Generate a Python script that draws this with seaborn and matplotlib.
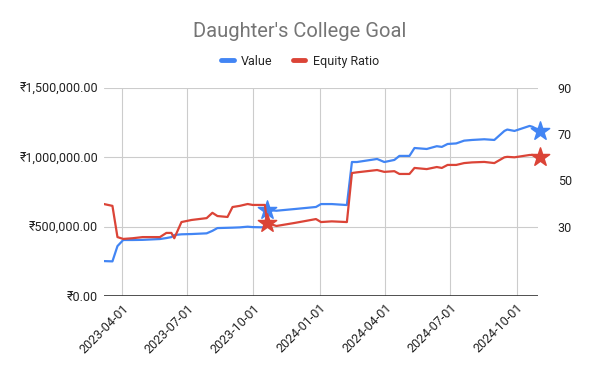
import pandas as pd
import matplotlib
matplotlib.use('Agg')
import matplotlib.pyplot as plt
import matplotlib.dates as mdates
import matplotlib.ticker as mticker
import seaborn as sns

dates = ['2023-03-07', '2023-03-19', '2023-03-26', '2023-04-03', '2023-04-16', '2023-04-30',
         '2023-05-24', '2023-06-02', '2023-06-09', '2023-06-13', '2023-06-23', '2023-07-07',
         '2023-07-28', '2023-08-05', '2023-08-12', '2023-08-26', '2023-09-02', '2023-09-12',
         '2023-09-23', '2023-09-30', '2023-10-17', '2023-10-20', '2023-11-02', '2023-11-27',
         '2023-12-13', '2023-12-27', '2024-01-03', '2024-01-18', '2024-02-08', '2024-02-15',
         '2024-02-22', '2024-03-21', '2024-03-31', '2024-04-14', '2024-04-21', '2024-05-05',
         '2024-05-12', '2024-05-29', '2024-06-12', '2024-06-19', '2024-06-27', '2024-07-09',
         '2024-07-20', '2024-07-31', '2024-08-17', '2024-08-31', '2024-09-14', '2024-09-18',
         '2024-09-28', '2024-10-19', '2024-10-23', '2024-11-03']

value = [252000, 250000, 360000, 404000, 404000, 405000, 411000, 418000, 425000, 440000,
         445000, 447000, 452000, 470000, 490000, 492000, 493000, 495000, 500000, 497000,
         495000, 620000, 615000, 627000, 635000, 642000, 663000, 663000, 656000, 966000,
         966000, 988000, 966000, 981000, 1010000, 1010000, 1067000, 1060000, 1080000, 1075000,
         1096000, 1100000, 1120000, 1125000, 1130000, 1125000, 1190000, 1200000, 1190000,
         1226000, 1220000, 1190000]

equity_ratio = [39.8, 39.0, 25.5, 24.7, 25.0, 25.5, 25.5, 27.3, 27.3, 25.0,
                32.0, 32.9, 33.7, 36.0, 34.6, 34.2, 38.5, 39.0, 39.8, 39.4,
                39.4, 31.6, 30.3, 31.6, 32.5, 33.3, 32.0, 32.3, 32.0, 53.2,
                53.5, 54.5, 53.7, 54.0, 52.8, 52.8, 55.4, 54.9, 55.8, 55.4,
                56.7, 56.7, 57.5, 57.8, 58.0, 57.5, 60.0, 60.2, 60.0,
                61.0, 61.0, 60.0]

star_dates = ['2023-10-20', '2024-11-03']

left_ticks = [0, 500000, 1000000, 1500000]
right_ticks = [30, 50, 70, 90]
x_ticks = ['2023-04-01', '2023-07-01', '2023-10-01', '2024-01-01',
           '2024-04-01', '2024-07-01', '2024-10-01']

df = pd.DataFrame({'date': pd.to_datetime(dates), 'value': value, 'equity': equity_ratio})
stars = df[df['date'].isin(pd.to_datetime(star_dates))]

blue = '#4285F4'
red = '#DB4437'

sns.set_style('white')
plt.rcParams['font.family'] = ['Roboto', 'DejaVu Sans']

fig = plt.figure(figsize=(6, 3.71), dpi=100)
ax = fig.add_axes([0.173, 0.202, 0.724, 0.561])
ax2 = ax.twinx()

sns.lineplot(x='date', y='value', data=df, ax=ax, color=blue, linewidth=1.6, legend=False)
sns.lineplot(x='date', y='equity', data=df, ax=ax2, color=red, linewidth=1.6, legend=False)
sns.scatterplot(x='date', y='value', data=stars, ax=ax, color=blue, marker='*', s=190,
                edgecolor=blue, zorder=5, legend=False, clip_on=False)
sns.scatterplot(x='date', y='equity', data=stars, ax=ax2, color=red, marker='*', s=190,
                edgecolor=red, zorder=5, legend=False, clip_on=False)

ax.set_ylim(0, 1500000)
ax2.set_ylim(0, 90)
ax.set_xlim(df['date'].min(), df['date'].max() + pd.Timedelta(days=-3))
ax.set_yticks(left_ticks)
ax2.set_yticks(right_ticks)
ax.yaxis.set_major_formatter(mticker.FuncFormatter(lambda v, p: '₹{:,.2f}'.format(v)))
ax.set_xticks(pd.to_datetime(x_ticks))
ax.xaxis.set_major_formatter(mdates.DateFormatter('%Y-%m-%d'))
plt.setp(ax.get_xticklabels(), rotation=45, ha='right', rotation_mode='anchor')

ax.grid(True, color='#cccccc', linewidth=0.8)
ax2.grid(False)
ax.set_axisbelow(True)
for a in (ax, ax2):
    for s in ['top', 'left', 'right', 'bottom']:
        a.spines[s].set_visible(False)
    a.set_xlabel('')
    a.set_ylabel('')
    a.tick_params(length=0, labelsize=9, colors='#222222')
ax.axhline(0, color='#333333', linewidth=1.2, zorder=6)
ax.tick_params(axis='y', pad=4)
ax.tick_params(axis='x', pad=4)
ax2.tick_params(axis='y', pad=14)

fig.text(0.5, 0.915, "Daughter's College Goal", ha='center', va='center', fontsize=14.5, color='#757575')
handles = [plt.Line2D([], [], color=blue, linewidth=3.5), plt.Line2D([], [], color=red, linewidth=3.5)]
fig.legend(handles, ['Value', 'Equity Ratio'], loc='center', bbox_to_anchor=(0.5, 0.835), ncol=2,
           frameon=False, fontsize=9, handlelength=1.0, handletextpad=0.6, columnspacing=1.6)

fig.savefig('out.png', dpi=100)
